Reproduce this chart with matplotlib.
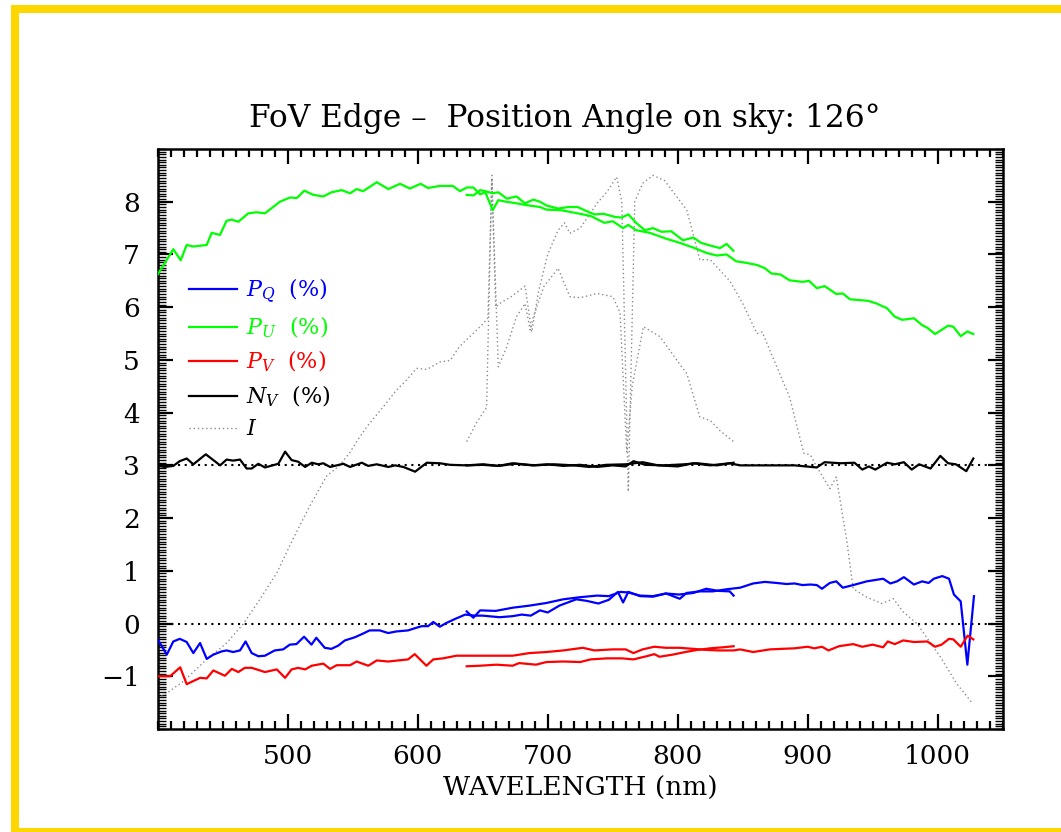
import matplotlib
matplotlib.use("Agg")
import matplotlib.pyplot as plt
from matplotlib.ticker import FixedLocator, MultipleLocator
from matplotlib.patches import Rectangle

plt.rcParams["font.family"] = ["DejaVu Serif"]
plt.rcParams["mathtext.fontset"] = "dejavuserif"

# ---------------------------------------------------------------- data
# Full-range spectrum (400-1030 nm)
lam_pu_a = [400, 412, 417.7, 422.3, 427.4, 437.7, 441.5, 447.9, 453, 457, 462, 469.7, 476, 482.5,
            494, 501.8, 507, 512.8, 519.7, 527.4, 533.8, 541.5, 548, 553, 558, 568.5, 577.4, 586.4,
            594, 602.3, 608, 617, 627, 632.5, 637.7, 642.8, 648, 652, 657.7, 662, 668, 676, 682.5,
            694, 699, 710, 723, 733, 743.6, 750, 758, 762, 768, 778.5, 791, 801.6, 812, 822, 830,
            837.6, 845, 853, 861, 867, 872, 879, 886, 896, 901, 907, 913, 922, 927, 932.5, 946.6,
            953, 961, 967, 972.7, 981.7, 988, 992, 998, 1008, 1012, 1017.7, 1022.8, 1027.4]
pu_a = [6.62, 7.10, 6.89, 7.18, 7.15, 7.18, 7.41, 7.37, 7.64, 7.66, 7.62, 7.78, 7.80, 7.78,
        8.00, 8.08, 8.07, 8.21, 8.13, 8.10, 8.18, 8.22, 8.16, 8.24, 8.20, 8.37, 8.24, 8.34,
        8.25, 8.34, 8.26, 8.30, 8.30, 8.20, 8.27, 8.27, 8.14, 8.18, 7.84, 8.03, 8.00, 7.97, 7.94,
        7.90, 7.85, 7.84, 7.78, 7.73, 7.60, 7.63, 7.50, 7.56, 7.46, 7.41, 7.30, 7.22, 7.13, 7.03, 6.98,
        7.00, 6.87, 6.84, 6.80, 6.74, 6.64, 6.62, 6.51, 6.48, 6.50, 6.36, 6.40, 6.25, 6.26, 6.15, 6.12,
        6.07, 5.98, 5.82, 5.76, 5.79, 5.66, 5.61, 5.49, 5.65, 5.63, 5.45, 5.54, 5.49]

lam_pq_a = [400, 407, 412, 417, 422.3, 427.4, 432.6, 437.7, 442.8, 449, 453, 458, 463.3, 467.6,
            472.3, 477.4, 482.5, 490, 496.5, 501.6, 506.7, 512.6, 518.3, 522, 528.5, 533.6, 538.8,
            544, 551.7, 558, 563, 570.8, 577.3, 583.6, 592.6, 599, 603, 608, 612, 617, 622, 629,
            636.6, 644, 650, 663, 673, 680, 687, 694, 700, 709, 722, 730, 739, 747, 754, 758, 762,
            771, 781, 791, 801.6, 806.8, 817, 827, 837.6, 848, 858, 867, 876, 883.6, 890, 896, 902,
            907, 911, 917, 922, 927, 935, 945.4, 958, 963.6, 968.7, 974, 981.7, 988, 993, 997,
            1003.5, 1008.7, 1012.5, 1017.7, 1022.8, 1027.9]
pq_a = [-0.30, -0.59, -0.34, -0.29, -0.35, -0.56, -0.37, -0.67, -0.59, -0.53, -0.51, -0.54, -0.51, -0.34,
        -0.56, -0.62, -0.61, -0.51, -0.49, -0.40, -0.39, -0.25, -0.40, -0.27, -0.46, -0.48, -0.42,
        -0.32, -0.26, -0.19, -0.13, -0.13, -0.18, -0.15, -0.13, -0.08, -0.05, -0.05, 0.03, -0.06, 0.01, 0.09,
        0.17, 0.15, 0.15, 0.12, 0.14, 0.17, 0.15, 0.25, 0.21, 0.34, 0.46, 0.43, 0.38, 0.45, 0.60, 0.40, 0.60,
        0.52, 0.51, 0.57, 0.47, 0.58, 0.61, 0.61, 0.65, 0.68, 0.76, 0.79, 0.77, 0.75, 0.76, 0.73, 0.74,
        0.73, 0.66, 0.77, 0.80, 0.68, 0.73, 0.80, 0.85, 0.76, 0.80, 0.88, 0.74, 0.80, 0.77, 0.85,
        0.90, 0.85, 0.55, 0.42, -0.78, 0.52]

lam_pv_a = [400, 409.5, 417.3, 422.3, 427.4, 432.6, 437.7, 442.8, 451.7, 457, 462, 467, 472.3, 482.5,
            491.6, 498, 503, 508, 513.4, 518.5, 527.4, 532.6, 537.7, 548, 553, 562, 568.5, 577.4,
            592.6, 597.7, 606.7, 612, 619.5, 629.8, 640, 650.5, 662, 673, 686, 699, 712, 727, 736,
            750, 760, 766, 773, 782, 791, 801.6, 812, 822, 832, 843, 848, 858, 871, 880, 889.6, 900,
            905, 911, 916, 924, 935, 942, 950, 958, 961.6, 967, 973.5, 981.7, 992, 998, 1003, 1008.7,
            1012, 1017.7, 1023, 1027.4]
pv_a = [-1.00, -1.00, -0.83, -1.15, -1.09, -1.03, -1.04, -0.89, -0.99, -0.86, -0.92, -0.84, -0.84, -0.92,
        -0.87, -1.03, -0.87, -0.84, -0.87, -0.80, -0.76, -0.86, -0.79, -0.79, -0.72, -0.80, -0.70, -0.72,
        -0.68, -0.58, -0.80, -0.68, -0.66, -0.61, -0.61, -0.61, -0.61, -0.61, -0.56, -0.54, -0.51, -0.46, -0.51,
        -0.49, -0.49, -0.56, -0.49, -0.44, -0.46, -0.46, -0.48, -0.50, -0.51, -0.51, -0.49, -0.54, -0.49, -0.48,
        -0.47, -0.44, -0.47, -0.44, -0.51, -0.43, -0.39, -0.44, -0.40, -0.45, -0.34, -0.39, -0.32, -0.35, -0.34,
        -0.44, -0.40, -0.29, -0.30, -0.44, -0.23, -0.30]

lam_nv_a = [400, 405.6, 412, 417, 422.3, 427.4, 437, 442.8, 448, 453, 458, 463.3, 468.4, 472.3, 477.4,
            482.5, 492.8, 498, 503, 508, 513.4, 518.5, 523.7, 527.4, 532.6, 542.8, 548, 557, 562, 568.5,
            577.4, 582.6, 589, 598, 607, 617, 625, 637.7, 650.5, 662, 673, 690, 705, 720, 732, 745, 760,
            773, 785, 800, 812, 825, 840, 848, 860, 875, 890, 907, 913, 925, 936, 942, 947, 952, 961,
            967, 974, 980, 985.7, 994.5, 1002, 1008, 1014, 1022, 1027.4]
nv_a = [2.99, 2.97, 2.99, 3.08, 3.13, 3.02, 3.21, 3.10, 3.00, 3.11, 3.09, 3.11, 2.94, 2.94, 3.03,
        2.96, 3.03, 3.26, 3.10, 3.07, 2.97, 3.05, 3.02, 3.04, 2.97, 3.03, 2.97, 3.05, 2.99, 3.02,
        2.97, 3.00, 2.97, 2.88, 3.05, 3.04, 3.01, 3.00, 3.02, 2.99, 3.04, 3.00, 3.02, 3.00, 2.97, 3.01, 3.02,
        3.06, 3.00, 2.98, 3.04, 3.00, 3.04, 3.00, 3.00, 3.00, 3.00, 2.96, 3.06, 3.04, 3.05, 2.92, 2.98, 2.92, 3.05,
        3.02, 3.06, 2.92, 3.02, 2.94, 3.18, 3.04, 3.02, 2.89, 3.13]

lam_i_a = [400, 407, 420, 437.7, 453, 466, 478.6, 491.6, 504, 517, 530, 540, 548, 553, 560.8, 573.5,
           583.8, 591.5, 599, 607, 617, 625, 632, 640, 650.5, 654, 657, 660, 663, 672, 682.6, 687.7,
           693, 700, 708, 713, 717, 725, 738, 746, 753, 757, 762, 767, 773, 781, 790, 807, 817, 825,
           840, 850, 861, 865, 874, 886, 897, 902, 907, 917, 922, 930, 935, 945.4, 957, 966, 973.5,
           984, 1002, 1014.6, 1027]
i_a = [-1.42, -1.32, -1.09, -0.68, -0.37, 0.00, 0.46, 0.96, 1.60, 2.23, 2.80, 3.00, 3.25, 3.45, 3.73, 4.11,
       4.43, 4.62, 4.84, 4.82, 4.96, 4.99, 5.25, 5.44, 5.69, 5.80, 8.40, 6.00, 6.07, 6.20, 6.40, 5.53,
       6.30, 7.00, 7.46, 7.60, 7.40, 7.50, 7.97, 8.20, 8.47, 8.00, 2.50, 8.00, 8.35, 8.50, 8.40, 7.84, 6.90, 6.90,
       6.50, 6.07, 5.50, 5.53, 5.00, 4.30, 3.23, 3.20, 2.97, 2.56, 2.78, 1.58, 0.66, 0.50, 0.38, 0.47, 0.22,
       0.00, -0.63, -1.14, -1.52]

# Red-arm spectrum (637-843 nm)
lam_pu_b = [637.7, 643, 648, 652, 657.7, 662, 668.5, 676, 682.5, 689, 694, 699, 708, 716, 723, 731,
            736, 743, 752, 757, 762, 768, 774.8, 781, 787.5, 795, 804, 812, 818, 825, 832.5, 837.6, 842.8]
pu_b = [8.13, 8.12, 8.22, 8.20, 8.16, 8.18, 8.06, 8.10, 7.97, 8.04, 8.00, 7.93, 7.87, 7.90, 7.90, 7.81,
        7.76, 7.77, 7.71, 7.70, 7.76, 7.60, 7.46, 7.50, 7.43, 7.44, 7.27, 7.32, 7.22, 7.17, 7.12, 7.20, 7.07]

lam_pq_b = [637.7, 642.8, 648, 660, 673, 686, 699, 712, 725, 738, 747, 756, 762, 771, 781, 791, 801,
            812, 822, 831, 840, 843]
pq_b = [0.23, 0.11, 0.25, 0.24, 0.30, 0.34, 0.39, 0.46, 0.50, 0.53, 0.52, 0.60, 0.59, 0.53, 0.52, 0.57,
        0.55, 0.58, 0.66, 0.62, 0.61, 0.53]

lam_pv_b = [637.7, 648, 660.5, 673, 678, 691, 699, 712, 725, 733, 745.6, 757, 766, 776, 782, 786, 796,
            806, 815, 825, 835, 843]
pv_b = [-0.81, -0.80, -0.78, -0.80, -0.75, -0.78, -0.73, -0.72, -0.73, -0.68, -0.66, -0.66, -0.68, -0.62,
        -0.58, -0.63, -0.59, -0.54, -0.50, -0.47, -0.45, -0.43]

lam_nv_b = [637.7, 650, 662, 675, 688, 700, 712, 725, 738, 750, 760, 766, 775, 790, 805, 815, 830, 843]
nv_b = [3.00, 3.01, 2.99, 3.03, 3.00, 3.02, 2.99, 3.01, 2.97, 3.00, 2.98, 3.08, 3.01, 3.00, 3.02, 3.04,
        3.00, 3.05]

lam_i_b = [637.7, 645, 653, 657, 662, 668.5, 676, 682.6, 686.5, 689, 697, 708, 717, 725, 738, 750,
           755.6, 760.8, 765, 773.6, 786.4, 799.2, 807, 817, 825, 832.5, 843]
i_b = [3.45, 3.80, 4.10, 8.50, 4.87, 5.25, 5.82, 6.07, 5.57, 5.82, 6.39, 6.74, 6.20, 6.18, 6.26, 6.20,
       5.90, 3.25, 4.50, 5.63, 5.44, 5.00, 4.74, 3.92, 3.85, 3.66, 3.45]

x_ticks = [500, 600, 700, 800, 900, 1000]
y_ticks = [-1, 0, 1, 2, 3, 4, 5, 6, 7, 8]

# ---------------------------------------------------------------- figure
W, H = 1061, 832
fig = plt.figure(figsize=(W / 100, H / 100), dpi=100)
fig.patch.set_facecolor("white")
ax = fig.add_axes([157.7 / W, 1 - 729 / H, 845 / W, 580 / H])

C_Q, C_U, C_V, C_N, C_I = "#0000ff", "#00ff00", "#ff0000", "black", "#8c8c8c"
LW = 1.6
dot_i = (0, (1, 2))

ax.axhline(0, color="black", lw=1.5, ls=(0, (1, 2.2)), zorder=1)
ax.axhline(3, color="black", lw=1.5, ls=(0, (1, 2.2)), zorder=1)

h_i, = ax.plot(lam_i_a, i_a, color=C_I, lw=1.0, ls=dot_i, zorder=2)
ax.plot(lam_i_b, i_b, color=C_I, lw=1.0, ls=dot_i, zorder=2)

h_q, = ax.plot(lam_pq_a, pq_a, color=C_Q, lw=LW, zorder=3)
ax.plot(lam_pq_b, pq_b, color=C_Q, lw=LW, zorder=3)
h_u, = ax.plot(lam_pu_a, pu_a, color=C_U, lw=LW, zorder=3)
ax.plot(lam_pu_b, pu_b, color=C_U, lw=LW, zorder=3)
h_v, = ax.plot(lam_pv_a, pv_a, color=C_V, lw=LW, zorder=3)
ax.plot(lam_pv_b, pv_b, color=C_V, lw=LW, zorder=3)
h_n, = ax.plot(lam_nv_a, nv_a, color=C_N, lw=LW, zorder=3)
ax.plot(lam_nv_b, nv_b, color=C_N, lw=LW, zorder=3)

ax.set_xlim(400, 1050)
ax.set_ylim(-2, 9)
ax.xaxis.set_major_locator(FixedLocator(x_ticks))
ax.xaxis.set_minor_locator(MultipleLocator(10))
ax.yaxis.set_major_locator(FixedLocator(y_ticks))
ax.yaxis.set_minor_locator(MultipleLocator(0.05))
ax.tick_params(which="both", direction="in", top=True, right=True, width=1.6, colors="black")
ax.tick_params(which="major", length=11, labelsize=19)
ax.tick_params(axis="x", which="major", pad=11)
ax.tick_params(axis="y", which="major", pad=13)
ax.tick_params(which="minor", length=5.5)
ax.tick_params(axis="y", which="minor", width=1.0)
for s in ax.spines.values():
    s.set_linewidth(1.8)
ax.set_yticklabels([("\u2212%d" % -v) if v < 0 else str(v) for v in y_ticks])

ax.set_xlabel("WAVELENGTH (nm)", fontsize=19, labelpad=5)
fig.text(565 / W, 1 - 118 / H, "FoV Edge \u2013  Position Angle on sky: 126\u00b0",
         fontsize=22.5, ha="center", va="center")

leg = ax.legend([h_q, h_u, h_v, h_n, h_i],
                [r"$P_Q$  (%)", r"$P_U$  (%)", r"$P_V$  (%)", r"$N_V$  (%)", r"$I$"],
                loc="upper left", bbox_to_anchor=(0.037, 0.7795), frameon=False,
                fontsize=16, handlelength=2.15, handletextpad=0.42, labelspacing=0.42,
                borderpad=0, borderaxespad=0)
for t, c in zip(leg.get_texts(), [C_Q, C_U, C_V, "black", "black"]):
    t.set_color(c)

# page frame
fig.add_artist(Rectangle((15 / W, 0), 1.2, 1 - 9 / H, transform=fig.transFigure,
                         fill=False, edgecolor="#ffd700", lw=5.8, clip_on=False))

fig.savefig("out.png", dpi=100)
